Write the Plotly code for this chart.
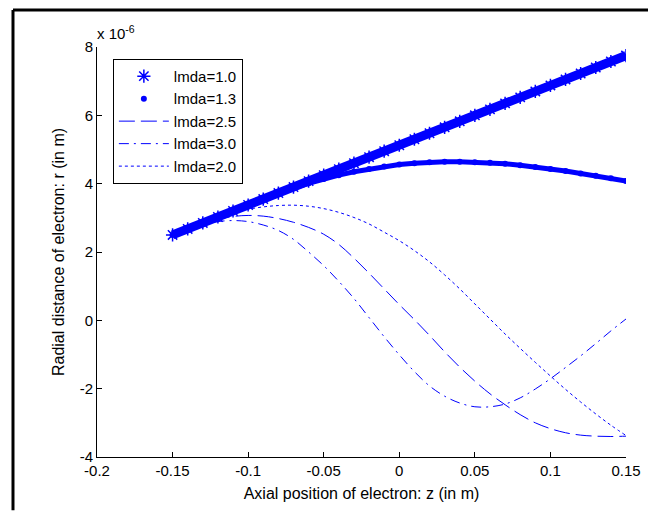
import plotly.graph_objects as go

# ---------------- data ----------------
# axial position z (m)
Z_M = [-0.15, -0.14, -0.13, -0.12, -0.11, -0.10, -0.09, -0.08, -0.07, -0.06,
       -0.05, -0.04, -0.03, -0.02, -0.01, 0.00, 0.01, 0.02, 0.03, 0.04,
       0.05, 0.06, 0.07, 0.08, 0.09, 0.10, 0.11, 0.12, 0.13, 0.14, 0.15]

# radial distance r, in units of 1e-6 m
R_LMDA_1_0 = [2.50, 2.675, 2.85, 3.025, 3.20, 3.375, 3.55, 3.725, 3.90, 4.075,
              4.25, 4.425, 4.60, 4.775, 4.95, 5.125, 5.30, 5.475, 5.65, 5.825,
              6.00, 6.175, 6.35, 6.525, 6.70, 6.875, 7.05, 7.225, 7.40, 7.575, 7.75]
R_LMDA_1_3 = [2.50, 2.675, 2.85, 3.025, 3.20, 3.375, 3.55, 3.72, 3.87, 4.01,
              4.14, 4.25, 4.35, 4.43, 4.50, 4.56, 4.60, 4.63, 4.645, 4.645,
              4.63, 4.61, 4.58, 4.54, 4.49, 4.43, 4.37, 4.30, 4.23, 4.16, 4.08]
R_LMDA_2_5 = [2.50, 2.67, 2.83, 2.96, 3.04, 3.07, 3.05, 2.98, 2.87, 2.72,
              2.52, 2.22, 1.82, 1.38, 0.92, 0.46, 0.02, -0.44, -0.92, -1.37,
              -1.78, -2.15, -2.47, -2.76, -3.00, -3.17, -3.29, -3.36, -3.39, -3.40, -3.39]
R_LMDA_3_0 = [2.50, 2.66, 2.80, 2.89, 2.92, 2.89, 2.79, 2.63, 2.37, 2.00,
              1.60, 1.14, 0.64, 0.08, -0.48, -1.01, -1.50, -1.92, -2.22, -2.42,
              -2.53, -2.53, -2.45, -2.27, -2.01, -1.71, -1.38, -1.04, -0.68, -0.31, 0.04]
R_LMDA_2_0 = [2.50, 2.68, 2.85, 3.01, 3.14, 3.25, 3.32, 3.36, 3.37, 3.34,
              3.27, 3.16, 3.01, 2.82, 2.58, 2.33, 2.04, 1.71, 1.33, 0.92,
              0.48, 0.04, -0.40, -0.82, -1.23, -1.63, -2.02, -2.39, -2.74, -3.07, -3.37]
R_SCALE = 1e-6

SERIES_NAMES = ["lmda=1.0", "lmda=1.3", "lmda=2.5", "lmda=3.0", "lmda=2.0"]

X_TICK_VALS = [-0.2, -0.15, -0.1, -0.05, 0.0, 0.05, 0.1, 0.15]
X_TICK_TEXT = ["-0.2", "-0.15", "-0.1", "-0.05", "0", "0.05", "0.1", "0.15"]
Y_TICK_VALS = [-4, -2, 0, 2, 4, 6, 8]
Y_TICK_TEXT = ["-4", "-2", "0", "2", "4", "6", "8"]

X_TITLE = "Axial position of electron: z (in m)"
Y_TITLE = "Radial distance of electron: r (in m)"
EXPONENT_LABEL = "x 10<sup>-6</sup>"

# ---------------- styling ----------------
BLUE = "#0000FF"
FONT = "Liberation Sans, Arial, sans-serif"


def scaled(vals):
    return [v * R_SCALE for v in vals]


fig = go.Figure()

# thick bands formed by the dense markers
fig.add_trace(go.Scatter(x=Z_M, y=scaled(R_LMDA_1_0), mode="lines",
                         line=dict(color=BLUE, width=9), showlegend=False,
                         hoverinfo="skip"))
fig.add_trace(go.Scatter(x=Z_M, y=scaled(R_LMDA_1_0), mode="markers",
                         name=SERIES_NAMES[0],
                         marker=dict(symbol="asterisk-open", size=11, color=BLUE,
                                     line=dict(color=BLUE, width=1.5))))
fig.add_trace(go.Scatter(x=Z_M, y=scaled(R_LMDA_1_3), mode="lines",
                         line=dict(color=BLUE, width=5), showlegend=False,
                         hoverinfo="skip"))
fig.add_trace(go.Scatter(x=Z_M, y=scaled(R_LMDA_1_3), mode="markers",
                         name=SERIES_NAMES[1],
                         marker=dict(symbol="circle", size=6, color=BLUE)))
fig.add_trace(go.Scatter(x=Z_M, y=scaled(R_LMDA_2_5), mode="lines",
                         name=SERIES_NAMES[2], line_shape="spline",
                         line=dict(color=BLUE, width=1, dash="16px,6px")))
fig.add_trace(go.Scatter(x=Z_M, y=scaled(R_LMDA_3_0), mode="lines",
                         name=SERIES_NAMES[3], line_shape="spline",
                         line=dict(color=BLUE, width=1, dash="10px,5px,2px,5px")))
fig.add_trace(go.Scatter(x=Z_M, y=scaled(R_LMDA_2_0), mode="lines",
                         name=SERIES_NAMES[4], line_shape="spline",
                         line=dict(color=BLUE, width=1, dash="3px,3px")))

axis_common = dict(showgrid=False, zeroline=False, showline=True,
                   linecolor="#000000", linewidth=1, ticks="inside", ticklen=5,
                   tickcolor="#000000", tickwidth=1,
                   tickfont=dict(family=FONT, size=15, color="#000000"))

fig.update_xaxes(range=[-0.2, 0.15], tickvals=X_TICK_VALS, ticktext=X_TICK_TEXT,
                 title=dict(text=X_TITLE, standoff=9,
                            font=dict(family=FONT, size=16, color="#000000")),
                 **axis_common)
fig.update_yaxes(range=[-4 * R_SCALE, 8 * R_SCALE],
                 tickvals=[v * R_SCALE for v in Y_TICK_VALS], ticktext=Y_TICK_TEXT,
                 title=dict(text=Y_TITLE, standoff=11,
                            font=dict(family=FONT, size=16, color="#000000")),
                 **axis_common)

# the page body adds an 8 px offset, so the figure is 8 px smaller than the window
fig.update_layout(
    width=648, height=503,
    margin=dict(l=89, r=30, t=39, b=49),
    plot_bgcolor="#FFFFFF", paper_bgcolor="#FFFFFF",
    font=dict(family=FONT, size=15, color="#000000"),
    legend=dict(x=0.03, y=0.971, xanchor="left", yanchor="top",
                bgcolor="#FFFFFF", bordercolor="#000000", borderwidth=1,
                font=dict(family=FONT, size=15, color="#000000"),
                itemwidth=50),
    annotations=[dict(text=EXPONENT_LABEL, xref="paper", yref="paper",
                      x=0, y=1.036, xanchor="left", yanchor="middle",
                      xshift=-2, showarrow=False,
                      font=dict(family=FONT, size=15, color="#000000"))],
    shapes=[
        dict(type="line", xref="paper", yref="paper", x0=-0.1588, x1=1.06,
             y0=1.0904, y1=1.0904, line=dict(color="#000000", width=3)),
        dict(type="line", xref="paper", yref="paper", x0=-0.1588, x1=-0.1588,
             y0=1.0904, y1=-0.13, line=dict(color="#000000", width=3)),
    ],
    showlegend=True,
)

fig.write_html("out.html")
